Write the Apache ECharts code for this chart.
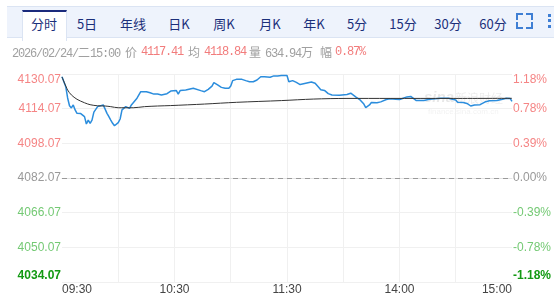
<!DOCTYPE html>
<html><head><meta charset="utf-8">
<script src="https://cdn.jsdelivr.net/npm/echarts@6/dist/echarts.min.js"></script>
<style>
html,body{margin:0;padding:0;background:#fff;}
#wrap{position:relative;width:554px;height:296px;overflow:hidden;font-family:"Liberation Sans",Arial,sans-serif;}
#chart{position:absolute;left:0;top:0;width:554px;height:296px;}
#bar{position:absolute;left:7px;top:6px;width:560px;height:30px;background:#eef3fc;border-top:1px solid #dbe4f3;border-bottom:1px solid #dbe4f3;}
.tab{position:absolute;top:0;height:30px;line-height:36px;font-size:13px;color:#1b2f7a;transform:translateX(-50%);white-space:nowrap;font-family:"Noto Sans CJK SC","Liberation Sans",sans-serif;}
#active{position:absolute;left:15px;top:3px;width:43px;height:29px;background:#fff;border-top:2px solid #1a2a7c;border-left:1px solid #dbe4f3;border-right:1px solid #dbe4f3;}
.info{position:absolute;top:45px;font-family:"Liberation Mono",monospace;font-size:12px;letter-spacing:-1.2px;color:#a0a0a0;white-space:nowrap;line-height:14px;}
.cj{font-family:"Noto Sans CJK SC",sans-serif;font-size:12px;letter-spacing:0;}
.red{color:#f27c7c;}
.fs{position:absolute;width:5px;height:5px;border-color:#3f7fd4;border-style:solid;border-width:0;}
.dot{position:absolute;left:548px;width:3px;height:3px;background:#3f7fd4;}
</style></head>
<body><div id="wrap"><div id="chart"></div>
<div id="bar">
  <div id="active"></div>
</div>
<div id="tabs"></div>
<div class="info" style="left:12px">2026/02/24/<span class="cj">二</span>15:00</div>
<div class="info cj" style="left:125px">价</div>
<div class="info red" style="left:141px">4117.41</div>
<div class="info cj" style="left:188px">均</div>
<div class="info red" style="left:204px">4118.84</div>
<div class="info cj" style="left:249px">量</div>
<div class="info" style="left:265px">634.94<span class="cj">万</span></div>
<div class="info cj" style="left:320px">幅</div>
<div class="info red" style="left:335px">0.87%</div>
<div class="fs" style="left:516px;top:13px;border-top-width:2px;border-left-width:2px"></div>
<div class="fs" style="left:526px;top:13px;border-top-width:2px;border-right-width:2px"></div>
<div class="fs" style="left:516px;top:22px;border-bottom-width:2px;border-left-width:2px"></div>
<div class="fs" style="left:526px;top:22px;border-bottom-width:2px;border-right-width:2px"></div>
<div class="dot" style="top:14px"></div>
<div class="dot" style="top:19px"></div>
<div class="dot" style="top:25px"></div>
</div>
<script>
const tabNames = ['分时','5日','年线','日K','周K','月K','年K','5分','15分','30分','60分'];
const tabCenters = [44,87,133,179,224,270,314,357,403,448,493];

const prevClose = 4082.07;
const xTickLabels = ['09:30','','10:30','','11:30','','14:00','','15:00'];

const priceTimes = ['09:30','09:32','09:33','09:34','09:35','09:36','09:37','09:38','09:39','09:40','09:42','09:43','09:44','09:45','09:46','09:47','09:48','09:49','09:50','09:52','09:53','09:54','09:55','09:56','09:57','09:58','09:59','10:00','10:01','10:02','10:03','10:04','10:05','10:06','10:07','10:08','10:10','10:12','10:13','10:15','10:17','10:19','10:21','10:23','10:24','10:26','10:28','10:29','10:31','10:32','10:33','10:34','10:36','10:40','10:41','10:44','10:46','10:48','10:50','10:51','10:53','10:55','10:57','10:59','11:00','11:01','11:03','11:06','11:08','11:10','11:12','11:14','11:16','11:18','11:19','11:21','11:23','11:25','11:27','11:30','13:01','13:02','13:03','13:05','13:07','13:10','13:13','13:15','13:17','13:18','13:20','13:22','13:24','13:28','13:32','13:34','13:35','13:37','13:39','13:41','13:42','13:44','13:45','13:48','13:50','13:51','13:53','13:55','13:58','14:00','14:02','14:04','14:06','14:07','14:09','14:13','14:16','14:22','14:26','14:30','14:31','14:34','14:36','14:38','14:40','14:43','14:46','14:48','14:52','14:55','14:57','14:59','15:00'];
const priceValues = [4128.8,4124.2,4119.0,4115.4,4114.4,4115.8,4113.5,4111.9,4112.2,4111.8,4110.4,4107.0,4108.8,4107.3,4108.8,4112.5,4113.0,4115.0,4115.3,4115.8,4115.9,4111.9,4110.4,4108.8,4107.3,4106.2,4106.8,4107.6,4109.3,4113.5,4113.5,4115.0,4114.7,4114.2,4115.8,4116.6,4118.9,4121.9,4122.7,4121.9,4121.4,4120.8,4120.8,4120.4,4120.8,4121.0,4122.2,4122.7,4122.4,4120.8,4122.4,4123.0,4122.7,4123.5,4122.7,4122.4,4121.9,4123.0,4124.5,4126.1,4125.0,4123.9,4123.5,4123.5,4124.5,4127.0,4127.6,4127.6,4127.0,4126.5,4126.5,4127.3,4128.8,4128.8,4128.6,4128.6,4129.2,4129.2,4129.4,4129.4,4126.5,4125.9,4127.0,4126.2,4125.2,4125.8,4126.4,4125.8,4123.8,4122.8,4122.5,4121.0,4120.4,4120.3,4120.6,4121.2,4120.8,4119.3,4118.1,4116.2,4114.6,4115.8,4116.9,4116.8,4117.2,4116.9,4118.3,4118.6,4118.4,4118.3,4118.9,4119.5,4119.7,4118.8,4117.8,4117.8,4118.4,4118.9,4118.9,4118.1,4117.0,4116.9,4116.5,4115.3,4115.8,4115.9,4117.3,4117.7,4117.8,4118.4,4118.9,4118.8,4117.41];

const avgTimes = ['09:30','09:33','09:35','09:38','09:42','09:45','09:49','09:53','09:56','10:00','10:08','10:14','10:21','10:28','10:46','11:03','11:27','13:14','13:32','13:55','14:27','15:00'];
const avgValues = [4128.7,4122.7,4120.4,4118.4,4116.8,4115.9,4115.4,4115.3,4115.0,4114.5,4114.5,4115.0,4115.3,4115.5,4116.2,4117.0,4117.8,4118.5,4118.8,4118.8,4118.8,4118.84];

function toIdx(t){
  const [h,m] = t.split(':').map(Number);
  const mins = h*60+m;
  return mins <= 690 ? mins - 570 : mins - 780 + 120;
}
function build(times, vals){ return times.map((t,i)=>[toIdx(t), +(vals[i]-prevClose).toFixed(3)]); }

const tabsEl = document.getElementById('tabs');
tabNames.forEach((n,i)=>{
  const d=document.createElement('div'); d.className='tab'; d.textContent=n;
  d.style.left=tabCenters[i]+'px'; d.style.top='6px';
  tabsEl.appendChild(d);
});

const RED='#f58585', GREEN='#74c974', DGREEN='#139a13', GRAY='#999';
function labColor(v){ return v>0?RED:(v<0?GREEN:GRAY); }

const chart = echarts.init(document.getElementById('chart'), null, {renderer:'canvas'});
chart.setOption({
  animation:false,
  grid:{left:62,right:42,top:74,bottom:14,containLabel:false},
  xAxis:{type:'value',min:0,max:240,interval:30,
    axisLine:{show:true,lineStyle:{color:'#e4e4e4'}},axisTick:{show:false},
    splitLine:{show:true,showMinLine:false,showMaxLine:false,lineStyle:{color:'#f0f0f0'}},
    axisLabel:{margin:2,fontSize:12,color:'#444',fontFamily:'Liberation Sans',
      alignMinLabel:'left',alignMaxLabel:'right',
      formatter:(v)=>xTickLabels[Math.round(v/30)]||''}},
  yAxis:[
    {type:'value',min:-48,max:48,interval:16,position:'left',
     axisLine:{show:false},axisTick:{show:false},
     splitLine:{show:true,lineStyle:{color:'#f0f0f0'}},
     axisLabel:{margin:1,fontSize:12,fontFamily:'Liberation Sans',
       verticalAlignMaxLabel:'top',verticalAlignMinLabel:'bottom',
       color:(v)=>labColor(+v),
       formatter:(v)=> v===-48?'{b|'+(prevClose+v).toFixed(2)+'}':(prevClose+v).toFixed(2),
       rich:{b:{color:DGREEN,fontWeight:'bold',fontSize:12,fontFamily:'Liberation Sans'}}}},
    {type:'value',min:-48,max:48,interval:16,position:'right',
     axisLine:{show:false},axisTick:{show:false},splitLine:{show:false},
     axisLabel:{margin:1,fontSize:12,fontFamily:'Liberation Sans',
       verticalAlignMaxLabel:'top',verticalAlignMinLabel:'bottom',
       color:(v)=>labColor(+v),
       formatter:(v)=>{const s=(v/prevClose*100).toFixed(2)+'%'; return v===-48?'{b|'+s+'}':s;},
       rich:{b:{color:DGREEN,fontWeight:'bold',fontSize:12,fontFamily:'Liberation Sans'}}}}
  ],
  graphic:[
    {type:'text',left:424,top:90,z:-1,style:{text:'sina',fill:'rgba(0,0,0,0.09)',font:'italic bold 15px "Liberation Sans"'}},
    {type:'text',left:455,top:92,z:-1,style:{text:'新浪财经',fill:'rgba(0,0,0,0.08)',font:'12px "Noto Sans CJK SC"'}},
    {type:'text',left:428,top:108,z:-1,style:{text:'finance.sina.com.cn',fill:'rgba(0,0,0,0.06)',font:'8px "Liberation Sans"'}}
  ],
  series:[
    {type:'line',data:build(priceTimes,priceValues),showSymbol:false,symbol:'none',
     lineStyle:{color:'#2b8ddd',width:1.5},z:3,
     markLine:{silent:true,symbol:'none',label:{show:false},
       lineStyle:{color:'#9a9a9a',type:[5,4],width:1},data:[{yAxis:0}]}},
    {type:'line',data:build(avgTimes,avgValues),showSymbol:false,symbol:'none',smooth:0.3,
     lineStyle:{color:'#333',width:1},z:4}
  ]
});
</script></body></html>
